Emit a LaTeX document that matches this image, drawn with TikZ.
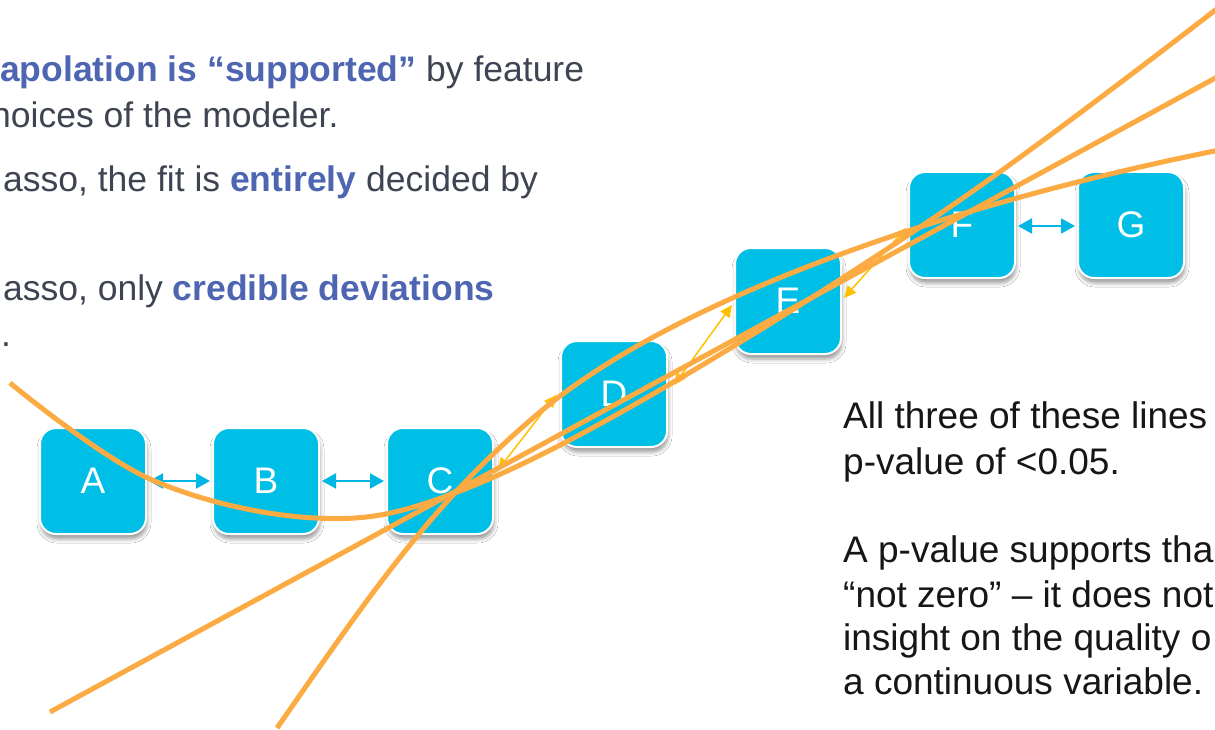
\documentclass[tikz,border=0pt]{standalone}
\usepackage{fontspec}
\setmainfont{Liberation Sans}
\usetikzlibrary{arrows.meta,calc,shadows.blur}
\definecolor{boxcyan}{RGB}{0,191,230}
\definecolor{linkcyan}{RGB}{0,182,228}
\definecolor{fitorange}{RGB}{252,170,66}
\definecolor{stepgold}{RGB}{255,192,0}
\definecolor{bodygray}{RGB}{62,68,82}
\definecolor{emphblue}{RGB}{78,102,178}
\definecolor{inkblack}{RGB}{22,22,22}
\begin{document}
\begin{tikzpicture}[x=1pt,y=-1pt,
  level/.style={rectangle, rounded corners=16pt, minimum width=106pt,
    minimum height=106pt, fill=boxcyan, draw=white, line width=2pt,
    text=white, font=\fontsize{37}{37}\selectfont, inner sep=0pt,
    blur shadow={shadow xshift=1pt, shadow yshift=-5pt,
      shadow blur radius=4pt, shadow opacity=40}},
  link/.style={draw=linkcyan, line width=2pt,
    {Triangle[length=14pt,width=15pt]}-{Triangle[length=14pt,width=15pt]}},
  hop/.style={draw=stepgold, line width=1.5pt,
    {Triangle[length=12pt,width=11pt]}-{Triangle[length=12pt,width=11pt]}},
  fitline/.style={draw=fitorange, line width=5pt},
  lefttext/.style={anchor=base west, inner sep=0pt, text=bodygray,
    font=\fontsize{35.5}{44}\selectfont},
  righttext/.style={anchor=base west, inner sep=0pt, text=inkblack,
    font=\fontsize{37}{44}\selectfont}]
\fill[white] (0,0) rectangle (1215,730);
\useasboundingbox (0,0) rectangle (1215,730);

% left bullet text
\node[lefttext] (l1) at (0,82)
  {\textcolor{emphblue}{\bfseries apolation is “supported”} by feature};
\node[lefttext] (l2) at (-9,128) {hoices of the modeler.};
\node[lefttext] (l3) at (3,192)
  {asso, the fit is \textcolor{emphblue}{\bfseries entirely} decided by};
\node[lefttext] (l4) at (3,300)
  {asso, only \textcolor{emphblue}{\bfseries credible deviations}};
\node[lefttext] (l5) at (1,346) {.};

% right explanation text
\node[righttext] (r1) at (843,428) {All three of these lines};
\node[righttext] (r2) at (843,474) {p-value of <0.05.};
\node[righttext] (r3) at (843,562) {A p-value supports tha};
\node[righttext] (r4) at (843,607) {“not zero” – it does not};
\node[righttext] (r5) at (843,650) {insight on the quality o};
\node[righttext] (r6) at (843,694) {a continuous variable.};

% levels
\node[level] (A) at (93,481) {A};
\node[level] (B) at (266,481) {B};
\node[level] (C) at (440,481) {C};
\node[level] (D) at (614,394) {D};
\node[level] (E) at (788,301) {E};
\node[level] (F) at (962,225) {F};
\node[level] (G) at (1131,225) {G};

% neighbour links
\draw[link] ($(A.east)+(2,0)$) -- ($(B.west)+(-2,0)$);
\draw[link] ($(B.east)+(2,0)$) -- ($(C.west)+(-2,0)$);
\draw[link] ($(F.east)+(2,1)$) -- ($(G.west)+(-2,1)$);

% steps up the staircase
\draw[hop] ($(C.east)+(4,-11)$) -- ($(D.west)+(-4,1)$);
\draw[hop] ($(D.east)+(6,-9)$) -- ($(E.west)+(-2,4)$);
\draw[hop] ($(E.east)+(2,-3)$) -- ($(F.west)+(-2,3)$);

% fitted lines: linear, logarithmic-like and cubic-like
\draw[fitline] (50,712) -- (1240,64.6);
\draw[fitline] (277,728) .. controls (367,599) and (430,504) .. (540,412)
  .. controls (680,295) and (960,200) .. (1240,146);
\draw[fitline] plot[smooth, tension=0.6] coordinates {(10,383) (150,479)
  (315,518) (452,494) (660,390) (960,200) (1240,-9)};
\end{tikzpicture}
\end{document}
